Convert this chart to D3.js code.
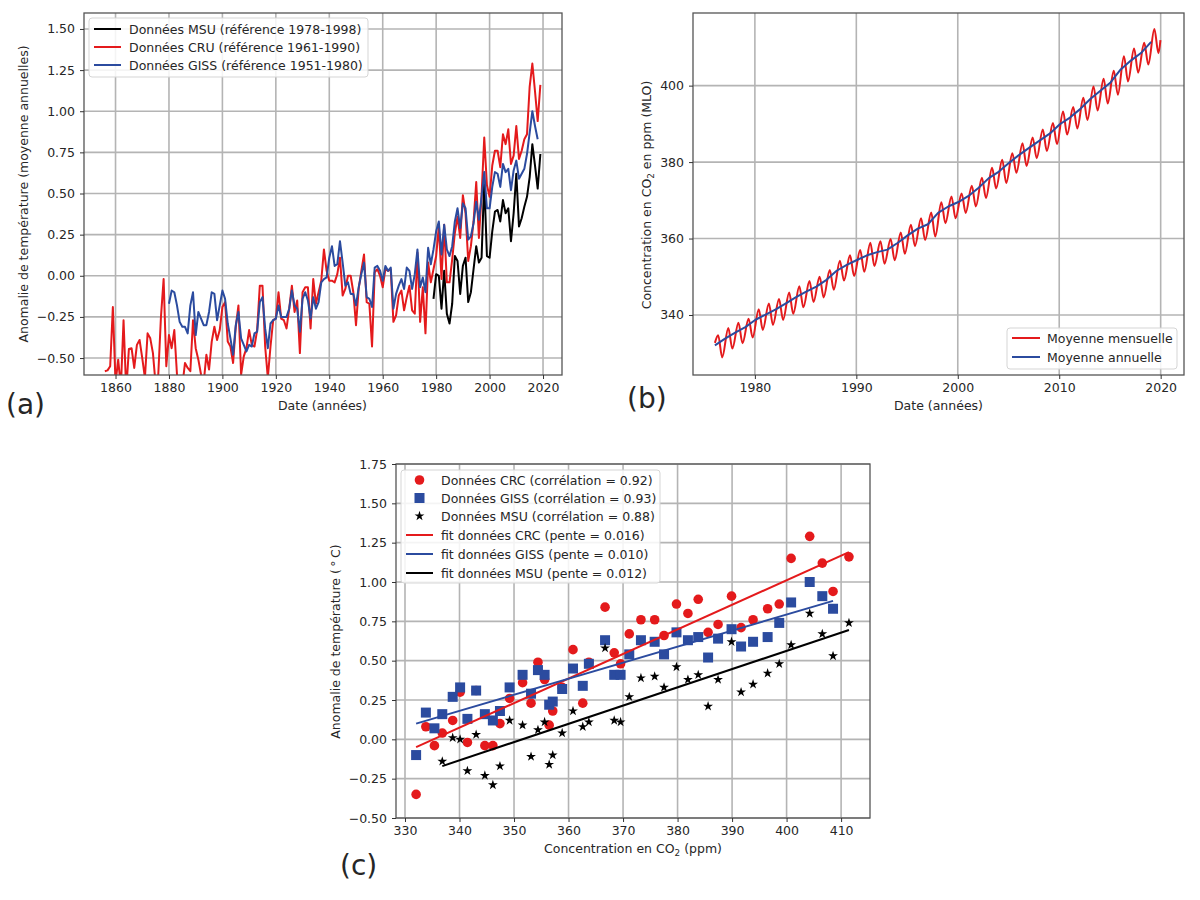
<!DOCTYPE html>
<html>
<head>
<meta charset="utf-8">
<script src="https://cdn.jsdelivr.net/npm/d3@7"></script>
<style>
    html, body { margin: 0; padding: 0; background: #fff; }
    svg { display: block; }
    text { font-family: "DejaVu Sans", sans-serif; fill: #262626; }
    .tick text { font-size: 12.5px; fill: #262626; }
    .grille line { stroke: #b4b4b4; stroke-width: 1.6; }
    .spine { fill: none; stroke: #555; stroke-width: 1.3; }
    .courbe { fill: none; stroke-width: 2; stroke-linejoin: round; }
</style>
</head>
<body>
<svg id="chart" width="1200" height="900"></svg>
<script>
// anomalies CRU 1856-1975 (les valeurs sous -0.6 sont coupees par le cadre)
var cruAncien = [
    -0.58, -0.575, -0.55, -0.19,
    -0.65, -0.51, -0.68, -0.27, -0.70, -0.445, -0.44, -0.56, -0.42, -0.39,
    -0.50, -0.62, -0.35, -0.38, -0.47, -0.66, -0.60, -0.25, -0.02, -0.55,
    -0.36, -0.44, -0.33, -0.60, -0.70, -0.67, -0.53, -0.56, -0.58, -0.27,
    -0.44, -0.51, -0.60, -0.65, -0.48, -0.57, -0.40, -0.31, -0.39, -0.33,
    -0.19, -0.16, -0.40, -0.43, -0.53, -0.31, -0.18, -0.60, -0.49, -0.44,
    -0.33, -0.42, -0.43, -0.33, -0.06, -0.06, -0.43, -0.62, -0.43, -0.27,
    -0.26, -0.10, -0.26, -0.27, -0.32, -0.20, -0.06, -0.22, -0.15, -0.47,
    -0.10, -0.07, -0.07, -0.32, -0.02, -0.17, -0.10, -0.03, 0.16, 0.03,
    -0.03, -0.03, -0.04, 0.01, 0.11, -0.12, -0.08, 0, 0, -0.10,
    -0.30, -0.08, 0.03, 0.13, -0.16, -0.17, -0.43, 0.02, 0.04, 0,
    -0.07, 0.04, 0.03, 0.04, -0.28, -0.24, -0.12, -0.09, -0.21, -0.13,
    -0.06, -0.21, -0.23, 0.14, -0.28, -0.07
];
// anomalies GISS 1880-1975
var gissAncien = [
    -0.17, -0.09, -0.10, -0.18, -0.28, -0.31, -0.31, -0.35, -0.18, -0.10,
    -0.36, -0.22, -0.26, -0.30, -0.30, -0.22, -0.10, -0.11, -0.27, -0.18,
    -0.09, -0.14, -0.29, -0.38, -0.48, -0.30, -0.22, -0.38, -0.42, -0.46,
    -0.42, -0.43, -0.35, -0.34, -0.16, -0.13, -0.32, -0.44, -0.29, -0.27,
    -0.26, -0.18, -0.25, -0.25, -0.25, -0.20, -0.09, -0.18, -0.20, -0.34,
    -0.14, -0.10, -0.15, -0.26, -0.13, -0.20, -0.16, -0.04, -0.02, -0.01,
    0.11, 0.18, 0.06, 0.07, 0.21, 0.08, -0.06, -0.04, -0.11, -0.11,
    -0.18, -0.07, 0.01, 0.08, -0.13, -0.14, -0.19, 0.05, 0.06, 0.03,
    -0.03, 0.06, 0.03, 0.05, -0.20, -0.11, -0.06, -0.02, -0.08, 0.05,
    0.03, -0.08, 0.01, 0.16, -0.07, -0.01
];
var co2Annuel = [
    332.04, 333.83, 335.40, 336.84, 338.75, 340.11, 341.45, 343.05, 344.65, 346.12,
    347.42, 349.19, 351.57, 353.12, 354.39, 355.61, 356.45, 357.10, 358.83, 360.82,
    362.61, 363.73, 366.70, 368.38, 369.55, 371.14, 373.28, 375.80, 377.52, 379.80,
    381.90, 383.79, 385.60, 387.43, 389.90, 391.65, 393.85, 396.52, 398.65, 400.83,
    404.24, 406.55, 408.52, 411.44
];
var cruRecent = [
    -0.35, 0.08, -0.04, 0.04, 0.12, 0.30, -0.02, 0.31, -0.04, -0.04,
    0.10, 0.26, 0.36, 0.23, 0.49, 0.38, 0.09, 0.18, 0.33, 0.57,
    0.23, 0.49, 0.84, 0.55, 0.48, 0.67, 0.76, 0.76, 0.66, 0.86,
    0.80, 0.89, 0.68, 0.73, 0.91, 0.71, 0.76, 0.83, 0.86, 1.15,
    1.29, 1.12, 0.94, 1.16
];
// GISS s'arrete en 2018
var gissRecent = [
    -0.10, 0.17, 0.07, 0.16, 0.27, 0.33, 0.13, 0.31, 0.16, 0.12,
    0.18, 0.33, 0.41, 0.29, 0.44, 0.41, 0.22, 0.24, 0.32, 0.45,
    0.34, 0.48, 0.63, 0.41, 0.41, 0.54, 0.63, 0.62, 0.54, 0.68,
    0.63, 0.65, 0.52, 0.64, 0.70, 0.59, 0.62, 0.65, 0.74, 0.87,
    1.00, 0.91, 0.83
];
// MSU commence en 1979
var msuRecent = [
    -0.14, 0.01, 0.00, -0.20, 0.03, -0.23, -0.29, -0.17,
    0.12, 0.09, -0.11, 0.06, 0.11, -0.16, -0.10, 0.04, 0.18, 0.08,
    0.11, 0.58, 0.12, 0.11, 0.27, 0.39, 0.40, 0.33, 0.46, 0.38,
    0.41, 0.21, 0.38, 0.62, 0.30, 0.35, 0.42, 0.48, 0.60, 0.80,
    0.67, 0.53, 0.74
];
// maxima (mai) et minima (automne) de la moyenne mensuelle, 1976-2019
var co2Pics = [
    334.7, 336.6, 338.0, 339.0, 341.5, 343.0, 344.2, 345.9, 347.5, 348.9,
    350.0, 351.8, 354.2, 355.6, 357.0, 358.9, 359.3, 359.9, 361.6, 363.6,
    365.3, 366.8, 369.5, 371.0, 371.8, 373.8, 375.9, 378.5, 380.6, 382.3,
    384.9, 386.4, 388.5, 390.2, 393.2, 394.4, 396.8, 399.8, 401.8, 403.9,
    407.7, 409.7, 411.2, 414.8
];
var co2Creux = [
    328.9, 331.2, 332.6, 334.1, 336.1, 337.4, 338.7, 340.3, 342.0, 343.4,
    344.6, 346.6, 349.0, 350.2, 351.3, 352.8, 353.4, 354.3, 356.0, 358.0,
    359.6, 360.5, 364.0, 365.3, 366.7, 368.4, 370.6, 373.1, 374.5, 377.2,
    379.0, 381.0, 382.9, 384.7, 387.2, 388.8, 391.0, 393.5, 395.3, 397.6,
    401.1, 403.4, 405.5, 408.5
];
var co2Debut = [1976.06, 332.7];
var co2Fin = [2019.98, 411.9];

// droites d'ajustement [x, y]
var fitCRU = [[332.04, -0.05], [411.44, 1.19]];
var fitGISS = [[332.04, 0.10], [408.52, 0.88]];
var fitMSU = [[336.84, -0.17], [411.44, 0.695]];

var ticksAnnees = [1860, 1880, 1900, 1920, 1940, 1960, 1980, 2000, 2020];
var ticksAnomalieA = [-0.5, -0.25, 0, 0.25, 0.5, 0.75, 1, 1.25, 1.5];
var ticksDecennies = [1980, 1990, 2000, 2010, 2020];
var ticksCO2 = [340, 360, 380, 400];
var ticksConcentration = [330, 340, 350, 360, 370, 380, 390, 400, 410];
var ticksAnomalieC = [-0.5, -0.25, 0, 0.25, 0.5, 0.75, 1, 1.25, 1.5, 1.75];

var ROUGE = "#e41a1c", BLEU = "#2b4b9f", NOIR = "#000";
var svg = d3.select("#chart");

function serie(debut, valeurs) {
    return valeurs.map(function (v, i) { return [debut + i, v]; });
}

var cru = serie(1856, cruAncien.concat(cruRecent));
var giss = serie(1880, gissAncien.concat(gissRecent));
var msu = serie(1979, msuRecent);

var mensuel = [co2Debut];
co2Pics.forEach(function (p, i) {
    mensuel.push([1976.38 + i, p]);
    mensuel.push([1976.78 + i, co2Creux[i]]);
});
mensuel.push(co2Fin);
var annuel = co2Annuel.map(function (v, i) { return [1976.06 + i, v]; });

// cadre, grille et axes d'un panneau
function panneau(id, box, xDomain, yDomain, xTicks, yTicks, yFormat) {
    var x = d3.scaleLinear().domain(xDomain).range([box.x0, box.x1]);
    var y = d3.scaleLinear().domain(yDomain).range([box.y1, box.y0]);

    svg.append("clipPath").attr("id", id)
        .append("rect")
        .attr("x", box.x0).attr("y", box.y0)
        .attr("width", box.x1 - box.x0).attr("height", box.y1 - box.y0);

    var grille = svg.append("g").attr("class", "grille");
    grille.selectAll(".gx").data(xTicks).enter().append("line")
        .attr("x1", x).attr("x2", x).attr("y1", box.y0).attr("y2", box.y1);
    grille.selectAll(".gy").data(yTicks).enter().append("line")
        .attr("y1", y).attr("y2", y).attr("x1", box.x0).attr("x2", box.x1);

    var plot = svg.append("g").attr("clip-path", "url(#" + id + ")");

    svg.append("rect").attr("class", "spine")
        .attr("x", box.x0).attr("y", box.y0)
        .attr("width", box.x1 - box.x0).attr("height", box.y1 - box.y0);

    svg.append("g")
        .attr("transform", "translate(0," + box.y1 + ")")
        .call(d3.axisBottom(x).tickValues(xTicks).tickFormat(d3.format("d")).tickSize(4).tickPadding(4))
        .call(nettoie);
    svg.append("g")
        .attr("transform", "translate(" + box.x0 + ",0)")
        .call(d3.axisLeft(y).tickValues(yTicks).tickFormat(d3.format(yFormat)).tickSize(4).tickPadding(5))
        .call(nettoie);

    return {x: x, y: y, plot: plot};
}

function nettoie(g) {
    g.select(".domain").remove();
    g.selectAll(".tick line").attr("stroke", "#333").attr("stroke-width", 1);
    g.attr("font-family", null).attr("font-size", null);
}

function ligne(p, data, color, curve) {
    var l = d3.line()
        .x(function (d) { return p.x(d[0]); })
        .y(function (d) { return p.y(d[1]); });
    if (curve) l.curve(curve);
    p.plot.append("path").attr("class", "courbe").attr("d", l(data)).attr("stroke", color);
}

function titreX(cx, cy, txt) {
    return svg.append("text").attr("x", cx).attr("y", cy)
        .attr("text-anchor", "middle").style("font-size", "12.5px").text(txt);
}

function titreY(cx, cy, txt) {
    return svg.append("text")
        .attr("transform", "translate(" + cx + "," + cy + ") rotate(-90)")
        .attr("text-anchor", "middle").style("font-size", "12.5px").text(txt);
}

function indice(t, avant, apres) {
    t.text(avant);
    t.append("tspan").attr("dy", 3).style("font-size", "8.8px").text("2");
    t.append("tspan").attr("dy", -3).text(apres);
}

function lettre(x, y, txt) {
    svg.append("text").attr("x", x).attr("y", y).style("font-size", "28px").text(txt);
}

function legende(box, entries, xLigne, xTexte) {
    var g = svg.append("g");
    g.append("rect")
        .attr("x", box.x).attr("y", box.y).attr("width", box.w).attr("height", box.h)
        .attr("rx", 3).attr("fill", "#fff").attr("fill-opacity", 0.85)
        .attr("stroke", "#d5d5d5").attr("stroke-width", 1);
    entries.forEach(function (e) {
        if (e.marque) {
            e.marque(g.append("g").attr("transform", "translate(" + ((xLigne[0] + xLigne[1]) / 2) + "," + e.y + ")"));
        } else {
            g.append("line")
                .attr("x1", xLigne[0]).attr("x2", xLigne[1]).attr("y1", e.y).attr("y2", e.y)
                .attr("stroke", e.color).attr("stroke-width", 2);
        }
        g.append("text").attr("x", xTexte).attr("y", e.y + 4.5)
            .style("font-size", "12.5px").text(e.txt);
    });
}

// (a)
var pa = panneau("clipA", {x0: 84, x1: 562, y0: 13, y1: 375},
    [1848.2, 2027.1], [-0.603, 1.597], ticksAnnees, ticksAnomalieA, ".2f");
ligne(pa, msu, NOIR);
ligne(pa, cru, ROUGE);
ligne(pa, giss, BLEU);
titreX(322.5, 410, "Date (années)");
titreY(28, 194, "Anomalie de température (moyenne annuelles)");
legende({x: 89, y: 18, w: 279, h: 59}, [
    {y: 29, color: NOIR, txt: "Données MSU (référence 1978-1998)"},
    {y: 47, color: ROUGE, txt: "Données CRU (référence 1961-1990)"},
    {y: 65, color: BLEU, txt: "Données GISS (référence 1951-1980)"}
], [94, 121], 129);
lettre(6, 414, "(a)");

// (b)
var pb = panneau("clipB", {x0: 693, x1: 1184, y0: 13, y1: 375},
    [1973.9, 2022.3], [324.3, 419], ticksDecennies, ticksCO2, "d");
ligne(pb, mensuel, ROUGE, d3.curveMonotoneX);
ligne(pb, annuel, BLEU);
titreX(938.5, 410, "Date (années)");
indice(titreY(651, 195, ""), "Concentration en CO", " en ppm (MLO)");
legende({x: 1007, y: 328, w: 170, h: 41}, [
    {y: 338, color: ROUGE, txt: "Moyenne mensuelle"},
    {y: 357, color: BLEU, txt: "Moyenne annuelle"}
], [1012, 1040], 1047);
lettre(627, 408, "(b)");

// (c)
var pc = panneau("clipC", {x0: 396, x1: 870, y0: 464, y1: 818},
    [328.35, 415.3], [-0.5, 1.75], ticksConcentration, ticksAnomalieC, ".2f");

function ronds(g) { g.append("circle").attr("r", 4.8).attr("fill", ROUGE); }
function carres(g) { g.append("rect").attr("x", -5).attr("y", -5).attr("width", 10).attr("height", 10).attr("fill", BLEU); }
function etoiles(g) { g.append("path").attr("d", d3.symbol().type(d3.symbolStar).size(30)()).attr("fill", NOIR); }

function nuage(xs, ys, marque) {
    ys.forEach(function (v, i) {
        marque(pc.plot.append("g").attr("transform", "translate(" + pc.x(xs[i]) + "," + pc.y(v) + ")"));
    });
}
nuage(co2Annuel, cruRecent, ronds);
nuage(co2Annuel, gissRecent, carres);
nuage(co2Annuel.slice(3), msuRecent, etoiles);
ligne(pc, fitCRU, ROUGE);
ligne(pc, fitGISS, BLEU);
ligne(pc, fitMSU, NOIR);

indice(titreX(633, 853, ""), "Concentration en CO", " (ppm)");
titreY(340, 641.5, "Anomalie de température (\u2009°\u2009C)");
legende({x: 401, y: 470, w: 259, h: 113}, [
    {y: 480, marque: ronds, txt: "Données CRC (corrélation = 0.92)"},
    {y: 498, marque: carres, txt: "Données GISS (corrélation = 0.93)"},
    {y: 516, marque: etoiles, txt: "Données MSU (corrélation = 0.88)"},
    {y: 535, color: ROUGE, txt: "fit données CRC (pente = 0.016)"},
    {y: 554, color: BLEU, txt: "fit données GISS (pente = 0.010)"},
    {y: 573, color: NOIR, txt: "fit données MSU (pente = 0.012)"}
], [406, 433], 441);
lettre(340, 875, "(c)");
</script>
</body>
</html>
